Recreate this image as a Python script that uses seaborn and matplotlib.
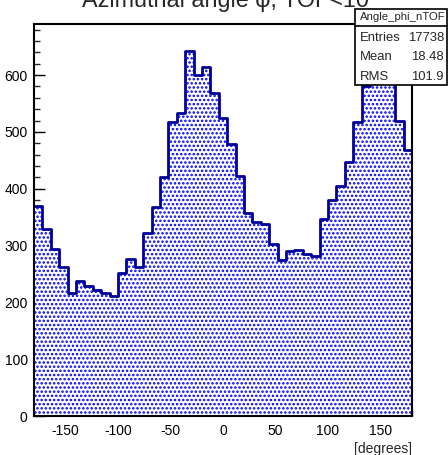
import numpy as np
import pandas as pd
import matplotlib
matplotlib.use("Agg")
import matplotlib.pyplot as plt
from matplotlib.patches import Rectangle
from matplotlib.lines import Line2D
from matplotlib.ticker import MultipleLocator
import seaborn as sns

# Histogram content: 45 bins of 8 degrees covering [-180, 180]
n_bins = 45
phi_range = (-180, 180)
counts = [370, 329, 294, 263, 216, 238, 229, 221, 216, 211,
          251, 277, 263, 322, 367, 420, 517, 534, 642, 600,
          614, 568, 525, 479, 422, 358, 342, 338, 303, 275,
          290, 292, 285, 282, 347, 381, 405, 447, 518, 580,
          625, 657, 637, 520, 468]
x_ticks = [-150, -100, -50, 0, 50, 100, 150]
y_ticks = [0, 100, 200, 300, 400, 500, 600]

title = "Azimuthal angle \u03c6, TOF<10"
hist_name = "Angle_phi_nTOF"
stats_rows = [("Entries", "17738"), ("Mean", "18.48"), ("RMS", "101.9")]
x_title = "[degrees]"

sns.set_style("ticks")
plt.rcParams["font.family"] = ["Liberation Sans", "DejaVu Sans"]
plt.rcParams["axes.unicode_minus"] = False
plt.rcParams["hatch.linewidth"] = 1.2

bin_edges = np.linspace(phi_range[0], phi_range[1], n_bins + 1)
centers = (bin_edges[:-1] + bin_edges[1:]) / 2
df = pd.DataFrame({"phi": centers, "n": counts})

W, H = 448, 455
fig = plt.figure(figsize=(W / 100, H / 100), dpi=100)
ax_l, ax_r, ax_t, ax_b = 34, 412, 24, 416
ax = fig.add_axes([ax_l / W, 1 - ax_b / H, (ax_r - ax_l) / W, (ax_b - ax_t) / H])

# dotted fill
sns.histplot(data=df, x="phi", weights="n", bins=n_bins, binrange=phi_range,
             element="step", fill=True, facecolor="white", edgecolor="#0000ff",
             linewidth=0, hatch="....", alpha=1, ax=ax)
# outline
sns.histplot(data=df, x="phi", weights="n", bins=n_bins, binrange=phi_range,
             element="step", fill=False, color="#000099", linewidth=2, ax=ax)

ax.set_xlim(*phi_range)
ax.set_ylim(0, max(counts) * 1.05)
ax.set_xticks(x_ticks)
ax.set_yticks(y_ticks)
ax.xaxis.set_minor_locator(MultipleLocator(10))
ax.yaxis.set_minor_locator(MultipleLocator(20))
ax.tick_params(which="major", direction="in", length=8, width=1.0,
               labelsize=10, colors="black", top=False, right=False)
ax.tick_params(which="minor", direction="in", length=4, width=1.0,
               top=False, right=False)
ax.tick_params(axis="x", pad=6)
ax.tick_params(axis="y", pad=4.5)
ax.set_ylabel("")
ax.set_xlabel(x_title, loc="right", fontsize=10, labelpad=3)
for s in ax.spines.values():
    s.set_linewidth(1.5)
    s.set_color("black")
    s.set_visible(True)

# title, mostly above the top edge of the canvas
fig.text(225 / W, 1 - 7 / H, title, ha="center", va="baseline", fontsize=16.8)

# statistics box
bx0, bx1, by0, by1, bdiv = 355, 447, 9, 85, 26
fig.patches.append(Rectangle((bx0 / W, 1 - by1 / H), (bx1 - bx0) / W,
                             (by1 - by0) / H, transform=fig.transFigure,
                             facecolor="white", edgecolor="black",
                             linewidth=1.2, zorder=5))
fig.lines.append(Line2D([bx0 / W, bx1 / W], [1 - bdiv / H, 1 - bdiv / H],
                        transform=fig.transFigure, color="black",
                        linewidth=1.2, zorder=6))
fig.text(403 / W, 1 - 17.5 / H, hist_name, ha="center",
         va="center", fontsize=8.2, zorder=7)
for i, (k, v) in enumerate(stats_rows):
    yy = 1 - (38 + 19.5 * i) / H
    fig.text(360 / W, yy, k, ha="left", va="center", fontsize=9.4, zorder=7)
    fig.text(444 / W, yy, v, ha="right", va="center", fontsize=9.4, zorder=7)

fig.savefig("out.png", dpi=100)
